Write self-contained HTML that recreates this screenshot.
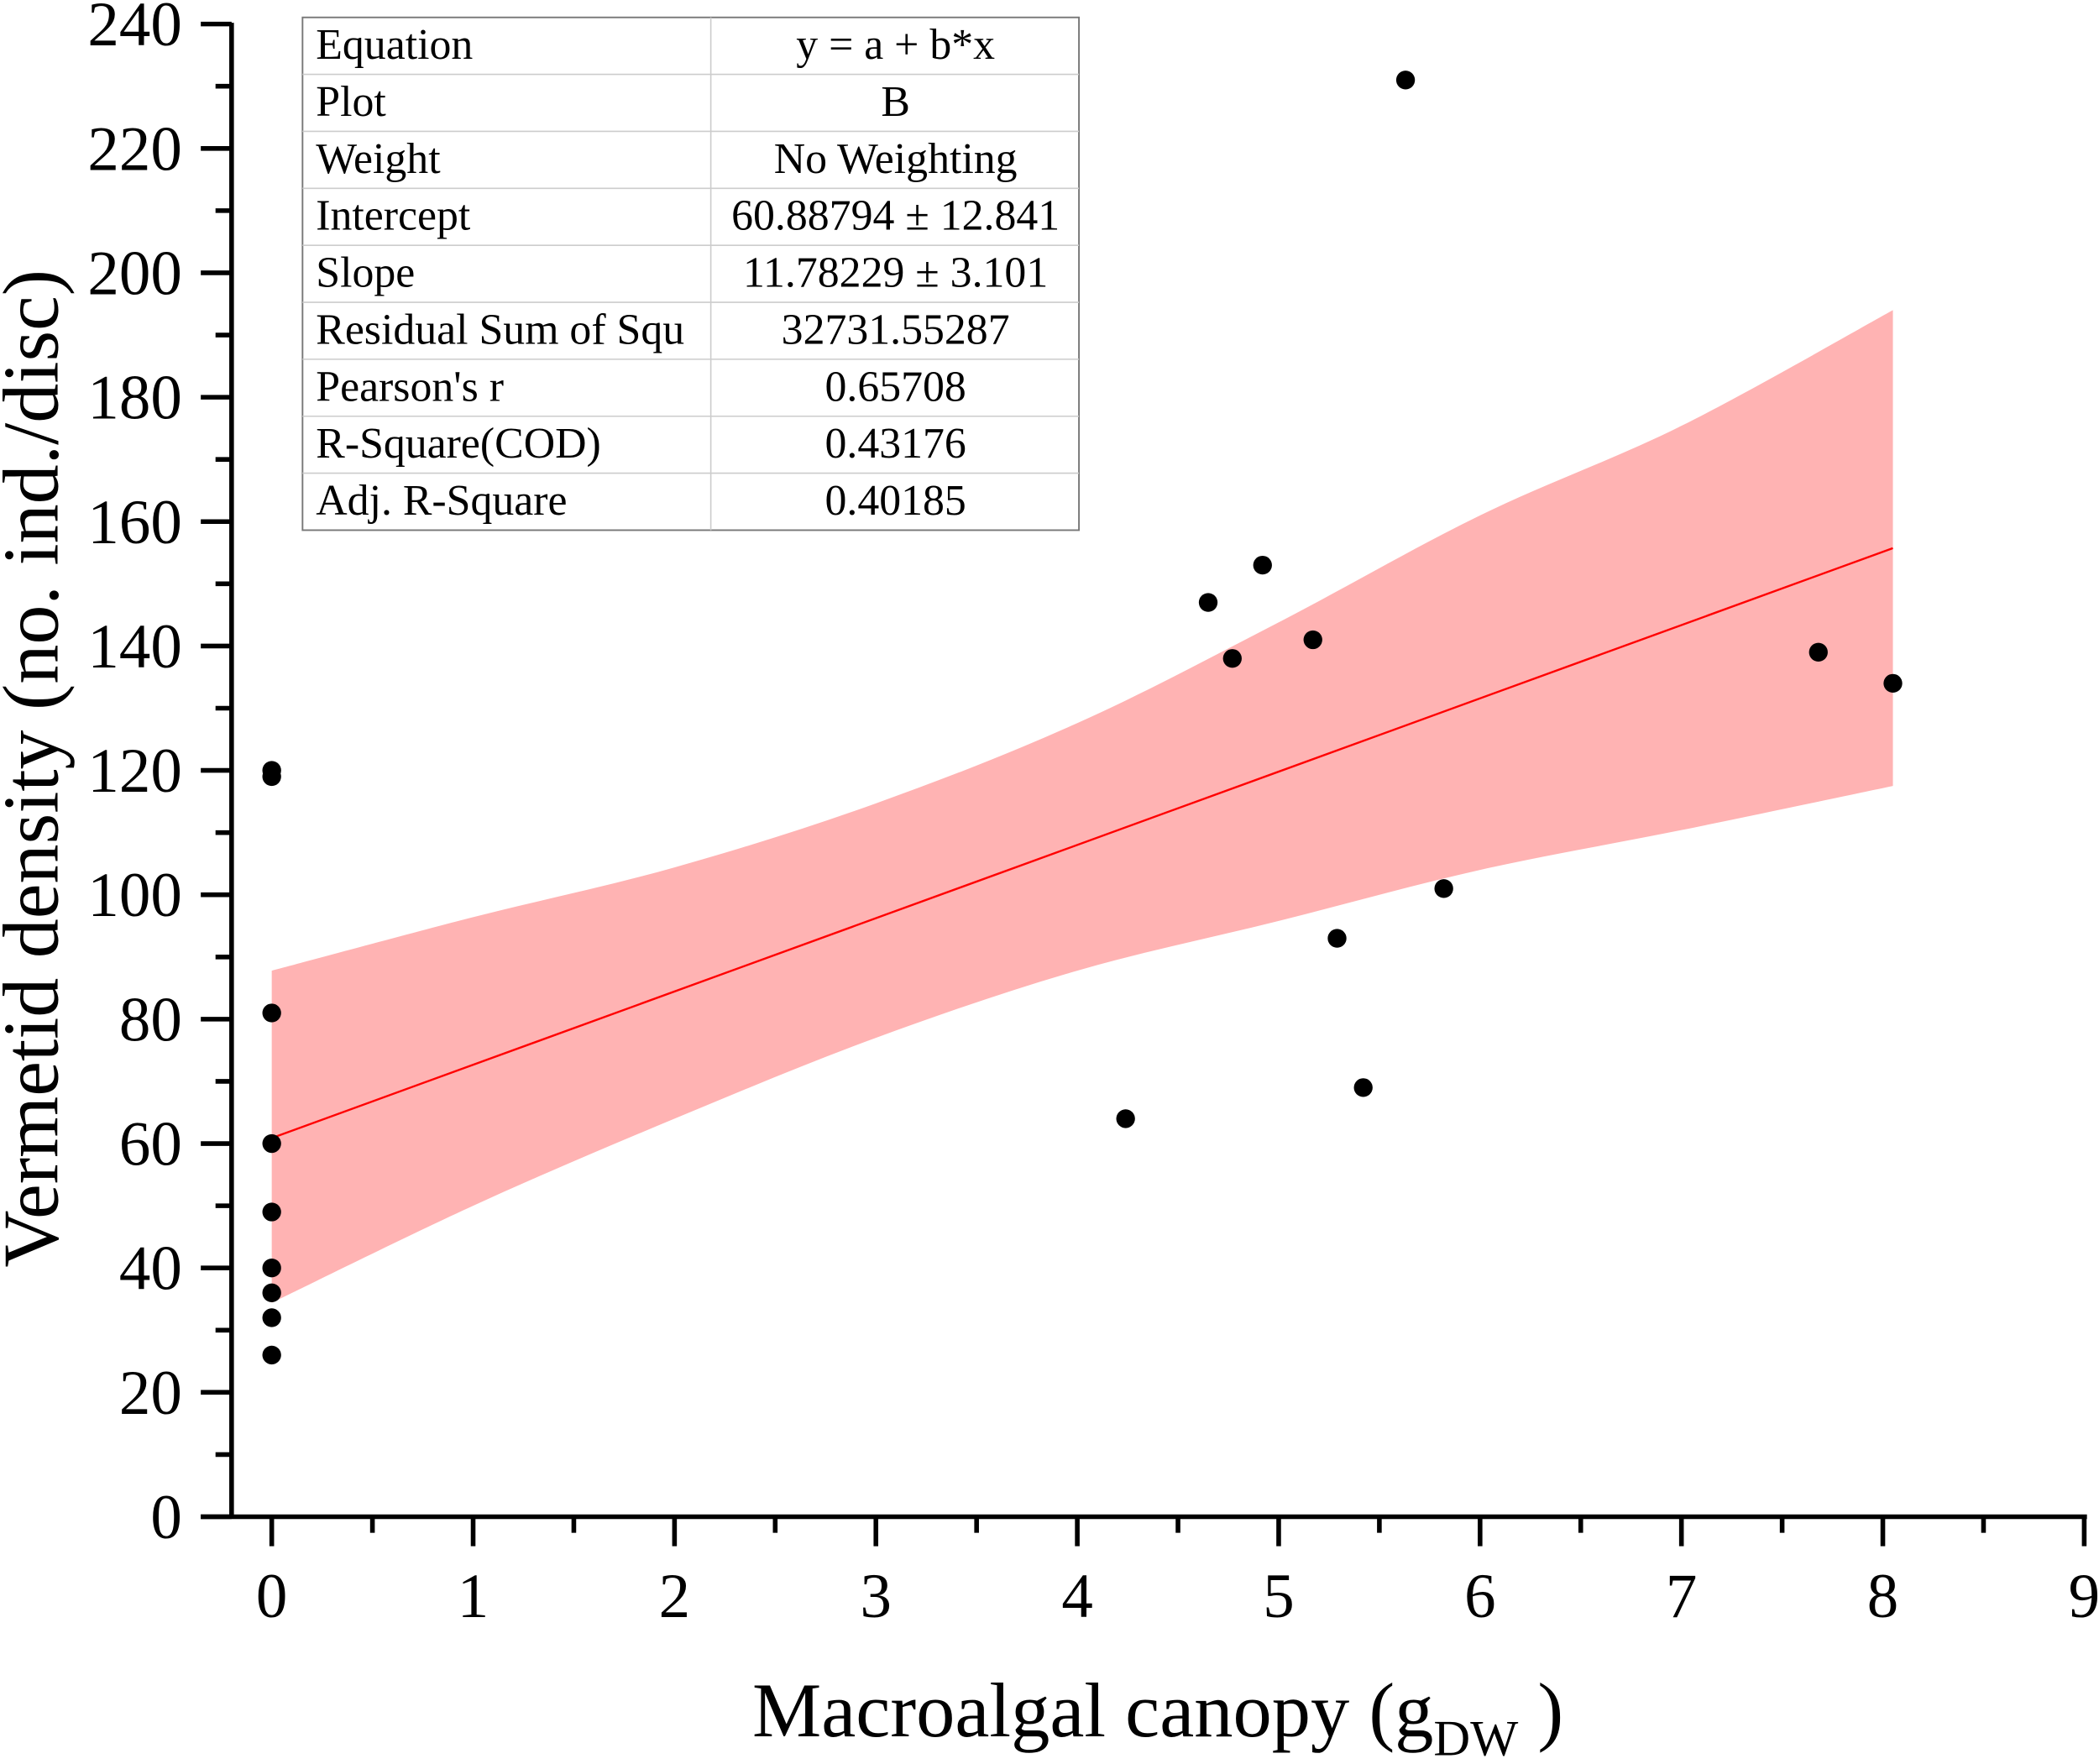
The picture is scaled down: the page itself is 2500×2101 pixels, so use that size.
<!DOCTYPE html>
<html><head><meta charset="utf-8"><style>
html,body{margin:0;padding:0;background:#fff}
svg{display:block}
text{font-family:"Liberation Serif",serif;fill:#000}
</style></head><body>
<svg id="chart" width="2500" height="2101" viewBox="0 0 1568 1317.7" preserveAspectRatio="none" xmlns="http://www.w3.org/2000/svg">
<g id="band"></g>
<g id="fit"></g>
<g id="points"></g>
<g id="axes"></g>
<g id="table"></g>
<text x="865" y="1297" font-size="58" text-anchor="middle">Macroalgal canopy (g<tspan font-size="38" dy="14">DW</tspan><tspan dy="-14"> )</tspan></text>
<text font-size="59" text-anchor="middle" transform="translate(43 574) rotate(-90)">Vermetid density (no. ind./disc)</text>
</svg>
<script>
const xs=[0,0,0,0,0,0,0,0,0,4.24,4.65,4.77,4.92,5.17,5.29,5.42,5.63,5.82,7.68,8.05];
const ys=[120,119,81,60,49,40,36,32,26,64,147,138,153,141,93,69,231,101,139,134];
const bandX=[0,1,2,3,4,5,6,7,8.05];
const bandUpper=[87.8,96.4,104.4,114.7,127.6,143.8,161,175.4,194];
const bandLower=[34.4,50,64,77,87.8,95.8,104,110.4,117.5];
const intercept=60.88794, slope=11.78229;
const xTicks=[0,1,2,3,4,5,6,7,8,9];
const yTicks=[0,20,40,60,80,100,120,140,160,180,200,220,240];
const tableRows=[["Equation","y = a + b*x"],["Plot","B"],["Weight","No Weighting"],["Intercept","60.88794 ± 12.841"],["Slope","11.78229 ± 3.101"],["Residual Sum of Squ","32731.55287"],["Pearson's r","0.65708"],["R-Square(COD)","0.43176"],["Adj. R-Square","0.40185"]];
const NS="http://www.w3.org/2000/svg";
const X=v=>203+v*150.44, Y=v=>1133-v*4.646;
function mk(tag,attrs,parent){const e=document.createElementNS(NS,tag);for(const k in attrs)e.setAttribute(k,attrs[k]);parent.appendChild(e);return e;}
function smooth(pts,start){let d=start?("M"+pts[0][0]+" "+pts[0][1]):("L"+pts[0][0]+" "+pts[0][1]);
for(let i=0;i<pts.length-1;i++){const p0=pts[Math.max(i-1,0)],p1=pts[i],p2=pts[i+1],p3=pts[Math.min(i+2,pts.length-1)];
d+="C"+(p1[0]+(p2[0]-p0[0])/6)+" "+(p1[1]+(p2[1]-p0[1])/6)+" "+(p2[0]-(p3[0]-p1[0])/6)+" "+(p2[1]-(p3[1]-p1[1])/6)+" "+p2[0]+" "+p2[1];}
return d;}
const up=bandX.map((x,i)=>[X(x),Y(bandUpper[i])]);
const lo=bandX.map((x,i)=>[X(x),Y(bandLower[i])]).reverse();
const bp=mk("path",{d:smooth(up,true)+smooth(lo,false)+"Z",fill:"#ffb3b3"},document.getElementById("band"));


const fl=mk("line",{x1:X(0),y1:Y(intercept),x2:X(8.05),y2:Y(intercept+slope*8.05),stroke:"#f00","stroke-width":1.5},document.getElementById("fit"));


const pg=document.getElementById("points");
xs.forEach((x,i)=>{const c=mk("circle",{cx:X(x),cy:Y(ys[i]),r:7,fill:"#000"},pg);

});
const ag=document.getElementById("axes");
mk("line",{x1:173,y1:17,x2:173,y2:1134,stroke:"#000","stroke-width":3.5},ag);
mk("line",{x1:150,y1:1133,x2:1559,y2:1133,stroke:"#000","stroke-width":3.5},ag);
yTicks.forEach((v,i)=>{mk("line",{x1:150,y1:Y(v),x2:173,y2:Y(v),stroke:"#000","stroke-width":3.5},ag);
if(i<yTicks.length-1)mk("line",{x1:161,y1:Y(v+10),x2:173,y2:Y(v+10),stroke:"#000","stroke-width":3.5},ag);
const t=mk("text",{x:136,y:Y(v)+16,"font-size":47,"text-anchor":"end"},ag);t.textContent=v;

});
xTicks.forEach((v,i)=>{mk("line",{x1:X(v),y1:1133,x2:X(v),y2:1155,stroke:"#000","stroke-width":3.5},ag);
if(i<xTicks.length-1)mk("line",{x1:X(v+0.5),y1:1133,x2:X(v+0.5),y2:1145,stroke:"#000","stroke-width":3.5},ag);
const t=mk("text",{x:X(v),y:1208,"font-size":47,"text-anchor":"middle"},ag);t.textContent=v;

});
const tg=document.getElementById("table");
const tx=226,ty=13,tw=580,rh=42.56,cx=531;
mk("rect",{x:tx,y:ty,width:tw,height:rh*9,fill:"#fff",stroke:"#777","stroke-width":1.2},tg);
mk("line",{x1:cx,y1:ty,x2:cx,y2:ty+rh*9,stroke:"#ccc","stroke-width":1},tg);
tableRows.forEach((r,i)=>{if(i)mk("line",{x1:tx,y1:ty+rh*i,x2:tx+tw,y2:ty+rh*i,stroke:"#ccc","stroke-width":1},tg);
const a=mk("text",{x:236,y:ty+rh*i+31,"font-size":32.5},tg);a.textContent=r[0];


const b=mk("text",{x:669,y:ty+rh*i+31,"font-size":32.5,"text-anchor":"middle"},tg);b.textContent=r[1];

});
</script>
</body></html>
